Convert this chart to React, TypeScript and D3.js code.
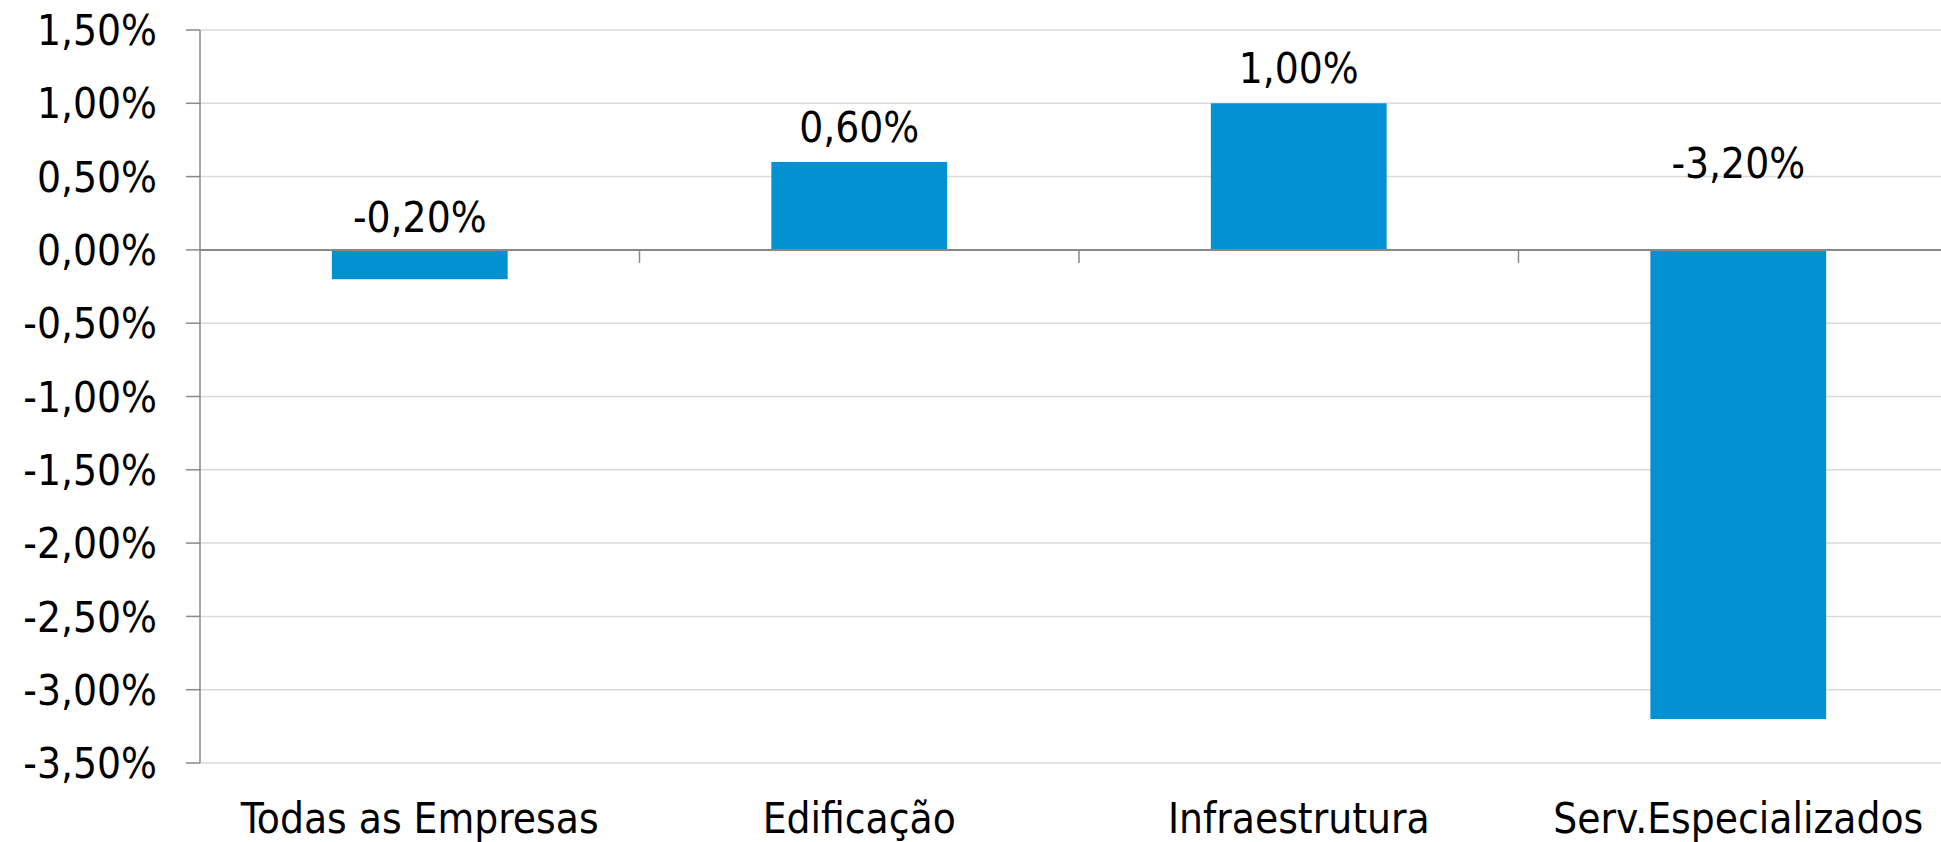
import React from "react";
import * as d3 from "d3";

const categories = ["Todas as Empresas", "Edificação", "Infraestrutura", "Serv.Especializados"];
const values = [-0.2, 0.6, 1.0, -3.2];
// data-unit height of each value label's baseline (as placed in the original)
const labelAnchors = [0.12, 0.735, 1.14, 0.49];
const yTicks = [1.5, 1.0, 0.5, 0.0, -0.5, -1.0, -1.5, -2.0, -2.5, -3.0, -3.5];

const W = 1941;
const H = 842;
const FONT = "'DejaVu Sans Condensed', 'DejaVu Sans', sans-serif";
const FS = 42;

const locale = d3.formatLocale({ decimal: ",", thousands: ".", grouping: [3], currency: ["", ""], minus: "-" });
const fmt = (v: number) => locale.format(".2f")(v) + "%";

export default function App() {
  const x = d3.scaleBand<string>().domain(categories).range([200, 1958]).paddingInner(0).paddingOuter(0);
  const y = d3.scaleLinear().domain([-3.5, 1.5]).range([763, 30]);
  const bw = x.bandwidth();
  const barW = bw * 0.4;
  const x0 = x.range()[0];
  const x1 = x.range()[1];

  return (
    <svg width={W} height={H} style={{ position: "absolute", left: 0, top: 0, background: "#fff" }}>
      {yTicks.map((t) => (
        <g key={"g" + t}>
          {t !== 0 && (
            <line x1={x0} x2={x1} y1={y(t)} y2={y(t)} stroke="#d9d9d9" strokeWidth={1.5} />
          )}
          <line x1={x0 - 14} x2={x0} y1={y(t)} y2={y(t)} stroke="#898989" strokeWidth={1.5} />
          <text
            x={157}
            y={y(t) + FS * 0.36}
            textAnchor="end"
            fontFamily={FONT}
            fontStretch="condensed"
            fontSize={FS}
            fill="#000"
          >
            {fmt(t)}
          </text>
        </g>
      ))}
      {values.map((v, i) => {
        const cx = (x(categories[i]) as number) + bw / 2;
        const top = y(Math.max(v, 0));
        const bot = y(Math.min(v, 0));
        return (
          <g key={"b" + i}>
            <rect x={cx - barW / 2} y={top} width={barW} height={bot - top} fill="#0291d2" />
            <text
              x={cx}
              y={y(labelAnchors[i])}
              textAnchor="middle"
              fontFamily={FONT}
              fontStretch="condensed"
              fontSize={FS}
              fill="#000"
            >
              {fmt(v)}
            </text>
            <text
              x={cx}
              y={833}
              textAnchor="middle"
              fontFamily={FONT}
              fontStretch="condensed"
              fontSize={FS}
              fill="#000"
            >
              {categories[i]}
            </text>
          </g>
        );
      })}
      <line x1={x0} x2={x1} y1={y(0)} y2={y(0)} stroke="#898989" strokeWidth={2} />
      {categories.slice(1).map((c) => (
        <line key={"t" + c} x1={x(c) as number} x2={x(c) as number} y1={y(0)} y2={y(0) + 13} stroke="#898989" strokeWidth={1.5} />
      ))}
      <line x1={x0} x2={x0} y1={y(1.5)} y2={y(-3.5)} stroke="#898989" strokeWidth={1.5} />
    </svg>
  );
}
